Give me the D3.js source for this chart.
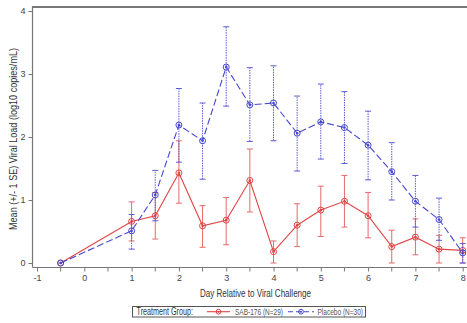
<!DOCTYPE html>
<html>
<head>
    <meta charset="utf-8">
    <title>Viral Load by Treatment Group</title>
    <script src="https://d3js.org/d3.v7.min.js"></script>
    <style>
        body { margin: 0; background: #fff; }
        text { font-family: "Liberation Sans", Arial, sans-serif; fill: #333; }
        .tick text { font-size: 9px; fill: #444; }
        .tick line { stroke: #777; }
    </style>
</head>
<body>
    <div id="chart"></div>

    <script>
        // Study days and group means / SE bounds (log10 copies/mL)
        const days = [-0.5, 1, 1.5, 2, 2.5, 3, 3.5, 4, 4.5, 5, 5.5, 6, 6.5, 7, 7.5, 8];

        const sabMean = [0, 0.66, 0.75, 1.43, 0.59, 0.68, 1.31, 0.18, 0.60, 0.84, 0.98, 0.75, 0.26, 0.41, 0.22, 0.20];
        const sabLow  = [0, 0.35, 0.38, 0.95, 0.25, 0.29, 0.81, 0.00, 0.26, 0.42, 0.57, 0.40, 0.00, 0.13, 0.00, 0.00];
        const sabHigh = [0, 0.97, 1.12, 1.94, 0.91, 1.04, 1.81, 0.35, 0.94, 1.22, 1.39, 1.12, 0.52, 0.70, 0.44, 0.40];

        const pboMean = [0, 0.51, 1.08, 2.19, 1.94, 3.11, 2.51, 2.54, 2.06, 2.24, 2.15, 1.87, 1.45, 0.98, 0.69, 0.16];
        const pboLow  = [0, 0.22, 0.67, 1.60, 1.33, 2.49, 1.93, 1.94, 1.46, 1.65, 1.58, 1.32, 1.00, 0.57, 0.36, 0.00];
        const pboHigh = [0, 0.77, 1.47, 2.77, 2.54, 3.75, 3.10, 3.13, 2.65, 2.84, 2.72, 2.41, 1.91, 1.39, 1.03, 0.31];

        const xTicks = [-1, 0, 1, 2, 3, 4, 5, 6, 7, 8];
        const xMinor = [-0.5, 0.5, 1.5, 2.5, 3.5, 4.5, 5.5, 6.5, 7.5];
        const yTicks = [0, 1, 2, 3, 4];

        const groups = [
            {name: "SAB-176 (N=29)", mean: sabMean, low: sabLow, high: sabHigh,
             color: "#e04545", barColor: "#e66a6a", dash: null, barDash: null},
            {name: "Placebo (N=30)", mean: pboMean, low: pboLow, high: pboHigh,
             color: "#4747cc", barColor: "#5a5ad6", dash: "7,3", barDash: "1.5,1"}
        ];

        const W = 467, H = 323;
        const svg = d3.select("#chart").append("svg")
            .attr("width", W)
            .attr("height", H);

        const x = d3.scaleLinear().domain([-1, 8]).range([37, 462.7]);
        const y = d3.scaleLinear().domain([0, 4]).range([263, 11]);

        const axisX = 32.5, axisY = 267.5;
        const fmt = d => String(d);

        // frame: top border and the two axis lines
        svg.append("line")
            .attr("x1", axisX).attr("x2", W).attr("y1", 7).attr("y2", 7)
            .attr("stroke", "#777").attr("stroke-width", 1.8);
        svg.append("line")
            .attr("x1", axisX).attr("x2", axisX).attr("y1", 6).attr("y2", axisY)
            .attr("stroke", "#777").attr("stroke-width", 1.2);
        svg.append("line")
            .attr("x1", axisX).attr("x2", W).attr("y1", axisY).attr("y2", axisY)
            .attr("stroke", "#777").attr("stroke-width", 1.2);

        // x axis
        const gx = svg.append("g")
            .attr("transform", `translate(0,${axisY})`)
            .call(d3.axisBottom(x).tickValues(xTicks).tickFormat(fmt)
                .tickSize(4).tickPadding(3).tickSizeOuter(0));
        gx.select(".domain").remove();

        svg.append("g")
            .attr("transform", `translate(0,${axisY})`)
            .selectAll("line")
            .data(xMinor)
            .enter().append("line")
            .attr("x1", d => x(d)).attr("x2", d => x(d))
            .attr("y1", 0).attr("y2", 4)
            .attr("stroke", "#777");

        // y axis
        const gy = svg.append("g")
            .attr("transform", `translate(${axisX},0)`)
            .call(d3.axisLeft(y).tickValues(yTicks).tickFormat(fmt)
                .tickSize(4).tickPadding(3).tickSizeOuter(0));
        gy.select(".domain").remove();

        // axis titles (squeezed to the narrow face of the original)
        svg.append("text")
            .attr("x", 200).attr("y", 297)
            .attr("textLength", 111).attr("lengthAdjust", "spacingAndGlyphs")
            .style("font-size", "10.5px")
            .text("Day Relative to Viral Challenge");

        svg.append("text")
            .attr("transform", "translate(16.5,230) rotate(-90)")
            .attr("textLength", 182).attr("lengthAdjust", "spacingAndGlyphs")
            .style("font-size", "10.5px")
            .text("Mean (+/- 1 SE) Viral Load (log10 copies/mL)");

        // series
        groups.forEach(g => {
            const pts = days.map((d, i) => ({day: d, m: g.mean[i], lo: g.low[i], hi: g.high[i]}));
            const layer = svg.append("g");

            const bars = pts.filter(p => p.hi > p.lo);
            layer.selectAll(".bar")
                .data(bars)
                .enter().append("line")
                .attr("x1", p => x(p.day)).attr("x2", p => x(p.day))
                .attr("y1", p => y(p.lo)).attr("y2", p => y(p.hi))
                .attr("stroke", g.barColor).attr("stroke-width", 1)
                .attr("stroke-dasharray", g.barDash);

            ["lo", "hi"].forEach(k => {
                layer.selectAll(".cap-" + k)
                    .data(bars)
                    .enter().append("line")
                    .attr("x1", p => x(p.day) - 3).attr("x2", p => x(p.day) + 3)
                    .attr("y1", p => y(p[k])).attr("y2", p => y(p[k]))
                    .attr("stroke", g.barColor).attr("stroke-width", 1);
            });

            layer.append("path")
                .datum(pts)
                .attr("fill", "none")
                .attr("stroke", g.color)
                .attr("stroke-width", 1.1)
                .attr("stroke-dasharray", g.dash)
                .attr("d", d3.line().x(p => x(p.day)).y(p => y(p.m)));

            layer.selectAll(".mk")
                .data(pts)
                .enter().append("circle")
                .attr("cx", p => x(p.day)).attr("cy", p => y(p.m))
                .attr("r", 3)
                .attr("fill", "none")
                .attr("stroke", g.color).attr("stroke-width", 1);

            layer.selectAll(".dot")
                .data(pts)
                .enter().append("circle")
                .attr("cx", p => x(p.day)).attr("cy", p => y(p.m))
                .attr("r", 1.3)
                .attr("fill", g.color);
        });

        // legend
        const lg = svg.append("g");
        lg.append("rect")
            .attr("x", 132.5).attr("y", 306.5)
            .attr("width", 233).attr("height", 10.5)
            .attr("fill", "#fff").attr("stroke", "#555").attr("stroke-width", 1);
        lg.append("text")
            .attr("x", 136.5).attr("y", 315)
            .attr("textLength", 56.5).attr("lengthAdjust", "spacingAndGlyphs")
            .style("font-size", "10px")
            .text("Treatment Group:");

        const legendPos = [
            {x0: 207, x1: 230, tx: 235, tw: 48},
            {x0: 288, x1: 314, tx: 317.5, tw: 45.5}
        ];
        groups.forEach((g, i) => {
            const p = legendPos[i];
            const cy = 311.7;
            lg.append("line")
                .attr("x1", p.x0).attr("x2", p.x1).attr("y1", cy).attr("y2", cy)
                .attr("stroke", g.color).attr("stroke-width", 1.1)
                .attr("stroke-dasharray", g.dash ? "5,3" : null);
            lg.append("circle")
                .attr("cx", (p.x0 + p.x1) / 2).attr("cy", cy).attr("r", 2.4)
                .attr("fill", "none").attr("stroke", g.color);
            lg.append("circle")
                .attr("cx", (p.x0 + p.x1) / 2).attr("cy", cy).attr("r", 1)
                .attr("fill", g.color);
            lg.append("text")
                .attr("x", p.tx).attr("y", 315)
                .attr("textLength", p.tw).attr("lengthAdjust", "spacingAndGlyphs")
                .style("font-size", "9.5px")
                .style("fill", "#555")
                .text(g.name);
        });
    </script>
</body>
</html>
